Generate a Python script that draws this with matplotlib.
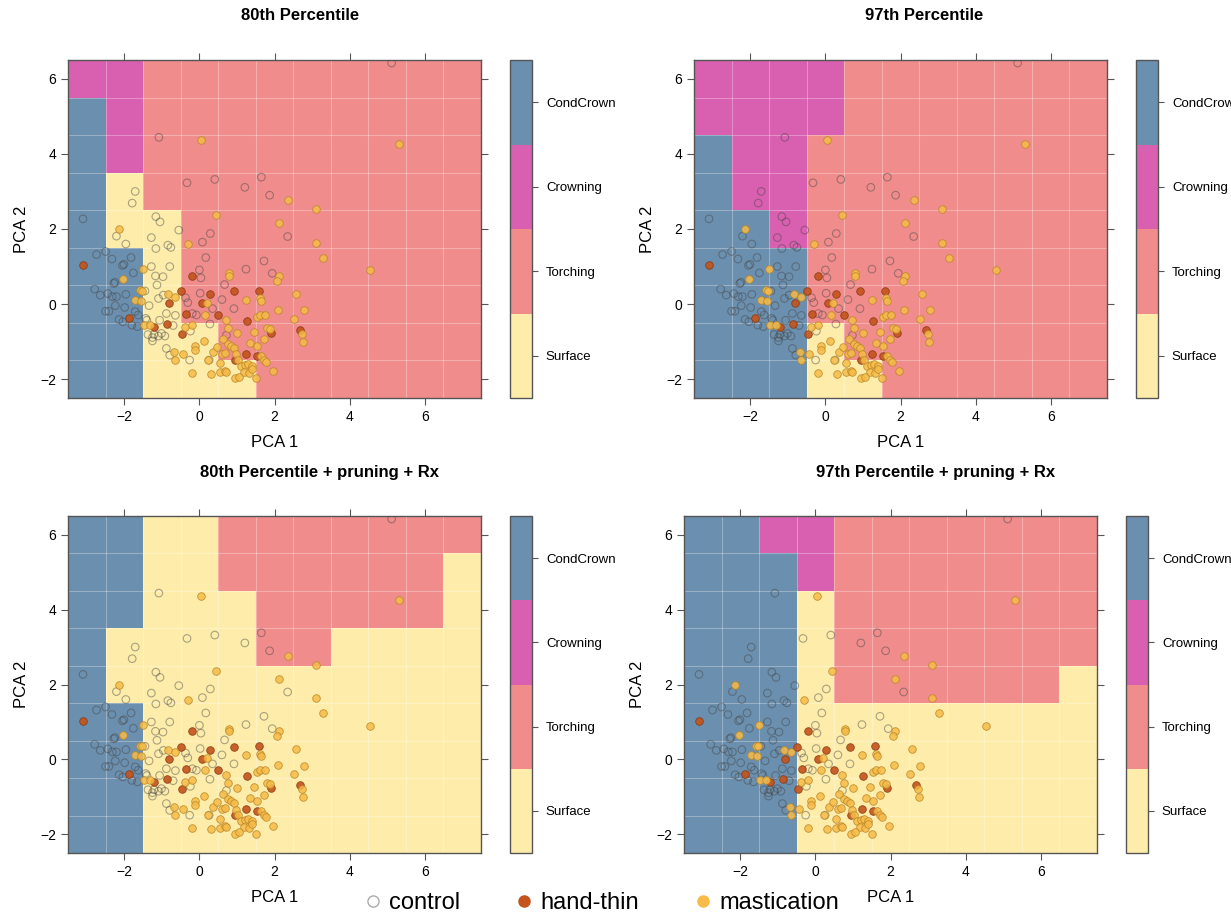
import numpy as np
import matplotlib
matplotlib.use("Agg")
import matplotlib.pyplot as plt
from matplotlib.colors import ListedColormap, BoundaryNorm
from matplotlib.lines import Line2D

# fire-type classes: 0 Surface, 1 Torching, 2 Crowning, 3 CondCrown
classes = ["Surface", "Torching", "Crowning", "CondCrown"]
class_colors = ["#feedaa", "#f08c8c", "#d95fb0", "#6b8fae"]

# grid cell centres
grid_x = np.arange(-3, 8)
grid_y = np.arange(6, -3, -1)   # rows listed top to bottom

p80 = [
    [2, 2, 1, 1, 1, 1, 1, 1, 1, 1, 1],
    [3, 2, 1, 1, 1, 1, 1, 1, 1, 1, 1],
    [3, 2, 1, 1, 1, 1, 1, 1, 1, 1, 1],
    [3, 0, 1, 1, 1, 1, 1, 1, 1, 1, 1],
    [3, 0, 0, 1, 1, 1, 1, 1, 1, 1, 1],
    [3, 3, 0, 1, 1, 1, 1, 1, 1, 1, 1],
    [3, 3, 0, 1, 1, 1, 1, 1, 1, 1, 1],
    [3, 3, 0, 0, 1, 1, 1, 1, 1, 1, 1],
    [3, 3, 0, 0, 0, 1, 1, 1, 1, 1, 1],
]
p97 = [
    [2, 2, 2, 2, 1, 1, 1, 1, 1, 1, 1],
    [2, 2, 2, 2, 1, 1, 1, 1, 1, 1, 1],
    [3, 2, 2, 1, 1, 1, 1, 1, 1, 1, 1],
    [3, 2, 2, 1, 1, 1, 1, 1, 1, 1, 1],
    [3, 3, 2, 1, 1, 1, 1, 1, 1, 1, 1],
    [3, 3, 3, 1, 1, 1, 1, 1, 1, 1, 1],
    [3, 3, 3, 1, 1, 1, 1, 1, 1, 1, 1],
    [3, 3, 3, 0, 1, 1, 1, 1, 1, 1, 1],
    [3, 3, 3, 0, 0, 1, 1, 1, 1, 1, 1],
]
p80_rx = [
    [3, 3, 0, 0, 1, 1, 1, 1, 1, 1, 1],
    [3, 3, 0, 0, 1, 1, 1, 1, 1, 1, 0],
    [3, 3, 0, 0, 0, 1, 1, 1, 1, 1, 0],
    [3, 0, 0, 0, 0, 1, 1, 0, 0, 0, 0],
    [3, 0, 0, 0, 0, 0, 0, 0, 0, 0, 0],
    [3, 3, 0, 0, 0, 0, 0, 0, 0, 0, 0],
    [3, 3, 0, 0, 0, 0, 0, 0, 0, 0, 0],
    [3, 3, 0, 0, 0, 0, 0, 0, 0, 0, 0],
    [3, 3, 0, 0, 0, 0, 0, 0, 0, 0, 0],
]
p97_rx = [
    [3, 3, 2, 2, 1, 1, 1, 1, 1, 1, 1],
    [3, 3, 3, 2, 1, 1, 1, 1, 1, 1, 1],
    [3, 3, 3, 0, 1, 1, 1, 1, 1, 1, 1],
    [3, 3, 3, 0, 1, 1, 1, 1, 1, 1, 1],
    [3, 3, 3, 0, 1, 1, 1, 1, 1, 1, 0],
    [3, 3, 3, 0, 0, 0, 0, 0, 0, 0, 0],
    [3, 3, 3, 0, 0, 0, 0, 0, 0, 0, 0],
    [3, 3, 3, 0, 0, 0, 0, 0, 0, 0, 0],
    [3, 3, 3, 0, 0, 0, 0, 0, 0, 0, 0],
]

# plot locations in PCA space
control_x = [5.12, -1.08, -0.33, 0.41, 1.65, 1.21, 1.87, -1.71, -1.79, -3.10, -1.16, -1.05, -0.55, 0.29, 2.35,
             -1.96, -1.28, -1.16, -0.84, -0.76, 0.08, 0.17, 1.72, -2.74, -2.50, -2.33, -1.82, -2.05, -2.01, -1.76,
             -1.28, -0.79, -1.17, -0.97, -2.28, -2.25, -2.79, -2.64, -2.44, -2.32, -2.21, -1.96, -2.24, -1.99, -2.50,
             -2.41, -2.14, -2.04, -1.71, -1.63, -1.80, -1.65, -1.13, -1.45, -1.34, -1.09, -0.96, -0.37, -0.31, -0.19,
             -0.08, -0.64, -0.88, -1.43, -1.40, -1.06, -0.70, -1.37, -1.25, -1.21, -1.09, -1.01, -0.92, -1.25, -0.24,
             0.02, 0.35, 0.00, 0.04, 0.60, 0.67, 1.24, 0.92, 1.94, 0.28, 0.72, -0.88, -0.79, -0.26, 0.26, -2.21]
control_y = [6.42, 4.44, 3.23, 3.32, 3.38, 3.11, 2.90, 3.00, 2.69, 2.27, 2.33, 2.19, 1.97, 1.88, 1.80,
             1.60, 1.77, 1.48, 1.57, 1.51, 1.65, 1.24, 1.15, 1.32, 1.40, 1.20, 1.24, 1.03, 1.06, 0.83,
             1.00, 1.00, 0.75, 0.73, 0.55, 0.58, 0.40, 0.24, 0.28, 0.20, 0.20, 0.26, -0.04, -0.09, -0.19,
             -0.19, -0.41, -0.47, -0.20, -0.29, -0.56, -0.60, 0.51, 0.35, -0.04, 0.15, 0.24, 0.17, 0.04, -0.25,
             -0.29, -0.30, -0.25, -0.38, -0.43, -0.43, -0.57, -0.81, -0.89, -0.81, -0.85, -0.78, -0.85, -0.98, -0.72,
             0.29, -0.12, 0.91, 0.70, 0.12, 0.52, 0.93, -0.12, 0.82, -0.53, -0.83, -1.18, -1.36, -1.49, -1.49, 1.81]

thin_x = [-3.10, -1.88, -0.81, -0.49, -0.36, -1.20, -0.85, -0.46, 0.27, 0.08,
          0.49, -0.19, 0.91, 1.59, 1.27, 1.90, 2.68, 0.95, 1.25, 1.54]
thin_y = [1.03, -0.38, 0.02, 0.34, -0.25, -0.60, -0.53, -0.79, 0.26, 0.02,
          -0.28, 0.75, 0.34, 0.36, -0.44, -0.76, -0.69, -1.49, -1.33, -1.38]

mast_x = [0.04, 5.31, 2.36, 3.10, 0.45, 2.12, -2.15, -0.30, 3.10, 3.30, 4.54, -1.50, -2.04, -1.59, -1.54,
          -1.72, -1.55, -0.84, -0.66, -1.48, -1.32, -0.39, -0.20, 0.21, 0.15, 0.80, 0.80, 1.24, 1.61, 1.65,
          2.11, 2.07, 2.56, 2.10, 2.78, 1.53, 1.61, 1.74, 0.71, 2.52, 0.76, 0.99, 1.46, 1.80, 1.89,
          2.73, 2.76, 1.72, 1.54, 1.34, 0.63, 0.11, -0.12, -0.12, -0.68, -0.45, -0.66, 0.23, 0.35, 0.48,
          0.59, 0.68, 0.76, 0.85, 0.92, 0.97, 0.56, 1.03, 1.63, 1.72, 1.77, 1.12, 1.21, 1.30, 1.39,
          1.18, 1.32, 1.40, -0.20, 0.31, 0.54, 0.68, 0.72, 0.94, 1.05, 1.52, 1.95]
mast_y = [4.36, 4.26, 2.76, 2.53, 2.36, 2.16, 1.99, 1.59, 1.64, 1.23, 0.90, 0.93, 0.66, 0.37, 0.36,
          0.12, 0.09, 0.26, 0.20, -0.56, -0.56, -0.60, -0.56, 0.04, -0.29, 0.82, 0.76, 0.12, 0.15, 0.09,
          0.76, 0.62, 0.27, -0.15, -0.17, -0.34, -0.29, -0.29, -0.41, -0.40, -0.63, -0.76, -0.74, -0.63, -0.65,
          -0.79, -1.01, -0.94, -1.11, -1.04, -0.92, -0.98, -1.12, -1.21, -1.28, -1.32, -1.49, -1.48, -1.27, -1.14,
          -1.32, -1.30, -1.07, -1.11, -1.16, -1.34, -1.58, -1.49, -1.39, -1.48, -1.54, -1.64, -1.63, -1.60, -1.65,
          -1.80, -1.83, -1.73, -1.83, -1.87, -1.82, -1.78, -1.80, -1.98, -1.94, -1.98, -1.78]

titles = ["80th Percentile", "97th Percentile",
          "80th Percentile + pruning + Rx", "97th Percentile + pruning + Rx"]
grids = [p80, p97, p80_rx, p97_rx]

W, H = 1231, 915
fig = plt.figure(figsize=(W / 100, H / 100), dpi=100)
plt.rcParams['font.family'] = ['Liberation Sans', 'DejaVu Sans']

def px(l, t, r, b):
    return [l / W, 1 - b / H, (r - l) / W, (b - t) / H]

# axes box, colorbar box, title centre (pixels)
layout = [
    ((68, 60, 481, 398), (510, 60, 532, 398), (300, 16)),
    ((694, 60, 1107, 398), (1136, 60, 1158, 398), (924, 16)),
    ((68, 516, 481, 853), (510, 516, 532, 853), (320, 473)),
    ((684, 516, 1097, 853), (1126, 516, 1148, 853), (936, 473)),
]

cmap = ListedColormap(class_colors)
norm = BoundaryNorm(np.arange(-0.5, 4.5, 1), cmap.N)
frame = "#555555"
xe = np.append(grid_x - 0.5, grid_x[-1] + 0.5)
ye = np.append(grid_y + 0.5, grid_y[-1] - 0.5)

for grid, title, (abox, cbox, tpos) in zip(grids, titles, layout):
    ax = fig.add_axes(px(*abox))
    mesh = ax.pcolormesh(xe, ye, np.array(grid), cmap=cmap, norm=norm)
    for v in xe[1:-1]:
        ax.axvline(v, color="white", lw=0.8, alpha=0.3)
    for v in ye[1:-1]:
        ax.axhline(v, color="white", lw=0.8, alpha=0.3)
    ax.scatter(control_x, control_y, s=30, facecolors="none", edgecolors="#444444",
               linewidths=0.8, alpha=0.45, zorder=3)
    ax.scatter(thin_x, thin_y, s=30, c="#c4531c", edgecolors="#8a3a12",
               linewidths=0.6, alpha=0.9, zorder=4)
    ax.scatter(mast_x, mast_y, s=30, c="#f6bb48", edgecolors="#b98526",
               linewidths=0.6, alpha=0.85, zorder=4)
    ax.set_xlim(-3.5, 7.5)
    ax.set_ylim(-2.5, 6.5)
    ax.set_xticks([-2, 0, 2, 4, 6])
    ax.set_yticks([-2, 0, 2, 4, 6])
    ax.tick_params(direction="out", length=5, width=0.8, color=frame, labelsize=10,
                   top=True, right=True, labelcolor="black")
    for s in ax.spines.values():
        s.set_color(frame)
        s.set_linewidth(1.0)
    ax.set_xlabel("PCA 1", fontsize=12, labelpad=8)
    ax.set_ylabel("PCA 2", fontsize=12, labelpad=8)
    fig.text(tpos[0] / W, 1 - tpos[1] / H, title, ha="center", va="center",
             fontsize=12, fontweight="bold")

    cax = fig.add_axes(px(*cbox))
    cb = fig.colorbar(mesh, cax=cax, ticks=[0, 1, 2, 3])
    cb.ax.minorticks_off()
    cb.ax.set_yticklabels(classes)
    cb.ax.tick_params(length=4, width=0.8, color=frame, labelsize=9.5, pad=6)
    cb.outline.set_edgecolor(frame)
    cb.outline.set_linewidth(1.0)

handles = [
    Line2D([], [], marker="o", ls="none", markersize=8, markerfacecolor="none",
           markeredgecolor="#aaaaaa"),
    Line2D([], [], marker="o", ls="none", markersize=8, markerfacecolor="#c4531c",
           markeredgecolor="#c4531c"),
    Line2D([], [], marker="o", ls="none", markersize=8, markerfacecolor="#f6bb48",
           markeredgecolor="#f6bb48"),
]
fig.legend(handles, ["control", "hand-thin", "mastication"], ncol=3, loc="center",
           bbox_to_anchor=(600 / W, 1 - 903 / H), frameon=False, fontsize=17,
           handletextpad=0.2, columnspacing=2.2, handlelength=1.0)

fig.savefig("out.png", dpi=100)
plt.close(fig)
